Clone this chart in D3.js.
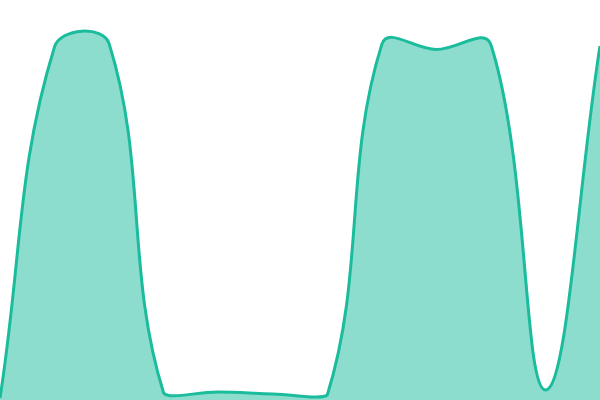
<!DOCTYPE html>
<html><head><meta charset="utf-8">
<script src="https://cdn.jsdelivr.net/npm/d3@7"></script>
<style>html,body{margin:0;padding:0;background:#fff;overflow:hidden}</style>
</head><body>
<svg id="chart" width="600" height="400"></svg>
<script>
const categories = [0,1,2,3,4,5,6,7,8,9,10,11];
const values = [0.5, 88.3, 89.1, 1.75, 2, 1.5, 1.25, 88.9, 87.6, 88.8, 2.5, 88.5];

const width = 600, height = 400;
const svg = d3.select("#chart");
const x = d3.scaleLinear().domain([0, categories.length - 1]).range([0, width]);
const y = d3.scaleLinear().domain([0, 100]).range([height, 0]);
const data = categories.map((c, i) => ({c, v: values[i]}));

// Spline curve with tension and control points kept inside the plot area
function splineCurve(tension, x0, y0, x1, y1) {
  function Curve(context) { this._context = context; }
  Curve.prototype = {
    areaStart() { this._line = 0; },
    areaEnd() { this._line = NaN; },
    lineStart() { this._pts = []; },
    point(px, py) { this._pts.push([+px, +py]); },
    lineEnd() {
      const p = this._pts, n = p.length, ctx = this._context;
      if (n) {
        const cps = p.map((cur, i) => {
          const prev = i > 0 ? p[i - 1] : cur;
          const next = i < n - 1 ? p[i + 1] : cur;
          const d01 = Math.hypot(cur[0] - prev[0], cur[1] - prev[1]);
          const d12 = Math.hypot(next[0] - cur[0], next[1] - cur[1]);
          let s01 = d01 / (d01 + d12), s12 = d12 / (d01 + d12);
          if (!isFinite(s01)) s01 = 0;
          if (!isFinite(s12)) s12 = 0;
          const fa = tension * s01, fb = tension * s12;
          const clx = v => Math.max(x0, Math.min(x1, v));
          const cly = v => Math.max(y0, Math.min(y1, v));
          return {
            c1: [clx(cur[0] - fa * (next[0] - prev[0])), cly(cur[1] - fa * (next[1] - prev[1]))],
            c2: [clx(cur[0] + fb * (next[0] - prev[0])), cly(cur[1] + fb * (next[1] - prev[1]))]
          };
        });
        if (this._line) ctx.lineTo(p[0][0], p[0][1]); else ctx.moveTo(p[0][0], p[0][1]);
        for (let i = 1; i < n; i++) {
          ctx.bezierCurveTo(cps[i - 1].c2[0], cps[i - 1].c2[1], cps[i].c1[0], cps[i].c1[1], p[i][0], p[i][1]);
        }
      }
      if (this._line || (this._line !== 0 && n === 1)) ctx.closePath();
      this._line = 1 - this._line;
    }
  };
  return context => new Curve(context);
}

const curve = splineCurve(0.4, 0, 0, width, height);
const area = d3.area().x(d => x(d.c)).y0(height).y1(d => y(d.v)).curve(curve);
const line = d3.line().x(d => x(d.c)).y(d => y(d.v)).curve(curve);

svg.append("path").datum(data).attr("d", area).attr("fill", "rgba(26,188,156,0.5)");
svg.append("path").datum(data).attr("d", line).attr("fill", "none").attr("stroke", "#1abc9c").attr("stroke-width", 3);
</script>
</body></html>
